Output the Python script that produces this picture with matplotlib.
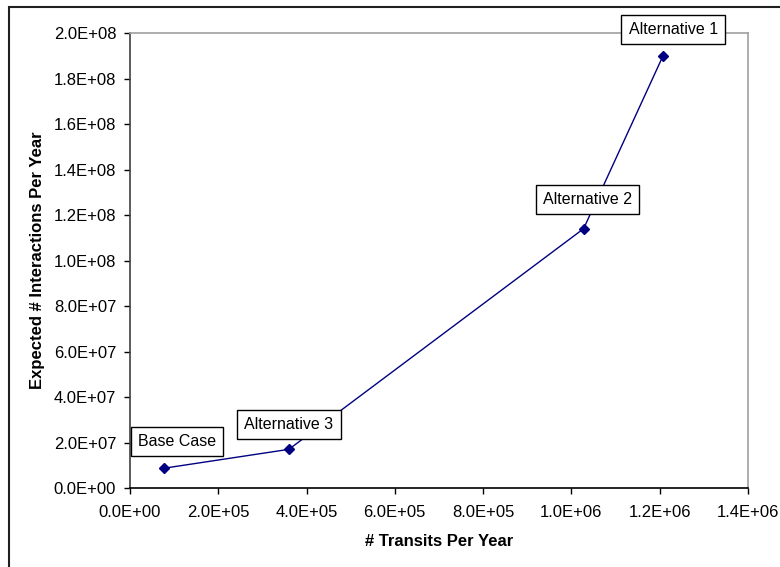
import matplotlib.pyplot as plt
from matplotlib.patches import Rectangle
from matplotlib.ticker import FuncFormatter

plt.rcParams['font.family'] = ['Liberation Sans', 'DejaVu Sans']

# data
labels = ['Base Case', 'Alternative 3', 'Alternative 2', 'Alternative 1']
transits = [7.7e4, 3.6e5, 1.028e6, 1.208e6]
interactions = [8.7e6, 1.70e7, 1.14e8, 1.90e8]
# label box offsets from each point (pixels)
offsets = [(13, 27), (0, 25), (4, 29), (10, 26)]

fig = plt.figure(figsize=(7.8, 5.67), dpi=100)
ax = fig.add_axes([0.1667, 0.1393, 0.792, 0.8025])

ax.plot(transits, interactions, color='#000080', lw=1, marker='D', ms=5.5,
        markerfacecolor='#000080', markeredgecolor='#000080')

for lab, x, y, off in zip(labels, transits, interactions, offsets):
    ax.annotate(lab, (x, y), xytext=off, textcoords='offset pixels',
                ha='center', va='center', fontsize=11.5,
                bbox=dict(boxstyle='square,pad=0.45', fc='white', ec='black', lw=1))

ax.set_xlim(0, 1.4e6)
ax.set_ylim(0, 2.0e8)
ax.set_xticks([i * 2e5 for i in range(8)])
ax.set_yticks([i * 2e7 for i in range(11)])

def sci(v, pos):
    return '%.1E' % v

ax.xaxis.set_major_formatter(FuncFormatter(sci))
ax.yaxis.set_major_formatter(FuncFormatter(sci))
ax.tick_params(direction='out', length=4, width=1, labelsize=12, color='black')
ax.tick_params(axis='x', pad=8)
ax.tick_params(axis='y', pad=6)

ax.spines['top'].set_color('#a0a0a0')
ax.spines['right'].set_color('#a0a0a0')
ax.spines['left'].set_color('#404040')
ax.spines['bottom'].set_color('black')
for s in ax.spines.values():
    s.set_linewidth(1.2)

ax.set_xlabel('# Transits Per Year', fontsize=12, fontweight='bold', labelpad=10)
ax.set_ylabel('Expected # Interactions Per Year', fontsize=12, fontweight='bold', labelpad=6)

# outer chart frame
fig.patches.append(Rectangle((9 / 780, -0.02), 1.0, 0.9877 + 0.02, transform=fig.transFigure,
                             fill=False, ec='#202020', lw=1.5, clip_on=False))

fig.savefig('out.png', dpi=100)
